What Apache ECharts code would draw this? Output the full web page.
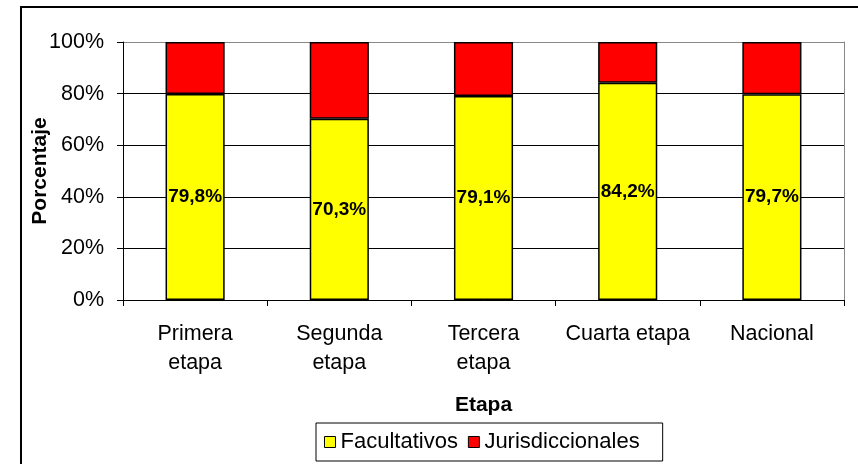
<!DOCTYPE html>
<html>
<head>
<meta charset="utf-8">
<script src="https://cdn.jsdelivr.net/npm/echarts@6/dist/echarts.min.js"></script>
<style>
  html, body { margin: 0; padding: 0; background: #fff; }
  #main { width: 858px; height: 464px; }
</style>
</head>
<body>
<div id="main"></div>
<script>
// etapas y porcentajes
const categories = ['Primera\netapa', 'Segunda\netapa', 'Tercera\netapa', 'Cuarta etapa', 'Nacional'];
const facultativos = [79.8, 70.3, 79.1, 84.2, 79.7];
const jurisdiccionales = [20.2, 29.7, 20.9, 15.8, 20.3];
const yTicks = [0, 20, 40, 60, 80, 100];

const font = 'Liberation Sans, Arial, sans-serif';
const chart = echarts.init(document.getElementById('main'));

const option = {
  animation: false,
  textStyle: { fontFamily: font },
  graphic: [{
    type: 'rect',
    shape: { x: 21, y: 7, width: 900, height: 500 },
    style: { fill: 'none', stroke: '#000', lineWidth: 2 },
    silent: true
  }],
  grid: { left: 123, right: 14, top: 42, bottom: 164 },
  legend: {
    left: 316, top: 423,
    padding: [8, 23, 8, 8],
    borderColor: '#000', borderWidth: 1,
    itemWidth: 11, itemHeight: 11, itemGap: 10,
    icon: 'rect',
    itemStyle: { borderColor: '#000', borderWidth: 1 },
    textStyle: { fontSize: 22, color: '#000', fontFamily: font },
    data: ['Facultativos', 'Jurisdiccionales']
  },
  xAxis: {
    type: 'category',
    data: categories,
    name: 'Etapa',
    nameLocation: 'middle',
    nameGap: 95,
    nameMoveOverlap: false,
    nameTextStyle: { fontSize: 21, fontWeight: 'bold', color: '#000', fontFamily: font },
    axisLine: { lineStyle: { color: '#000', width: 1 } },
    axisTick: { show: true, length: 6, lineStyle: { color: '#000' } },
    axisLabel: { interval: 0, hideOverlap: false, fontSize: 21.5, color: '#000', lineHeight: 29, margin: 20, fontFamily: font }
  },
  yAxis: [{
    type: 'value',
    min: 0, max: 100, interval: 20,
    name: 'Porcentaje',
    nameLocation: 'middle',
    nameGap: 72,
    nameMoveOverlap: false,
    nameRotate: 90,
    nameTextStyle: { fontSize: 21, fontWeight: 'bold', color: '#000', fontFamily: font },
    axisLine: { show: true, lineStyle: { color: '#000' } },
    axisTick: { show: true, length: 6, lineStyle: { color: '#000' } },
    axisLabel: {
      fontSize: 21.5, color: '#000', margin: 19, fontFamily: font,
      formatter: v => yTicks.includes(v) ? v + '%' : ''
    },
    splitLine: { show: true, lineStyle: { color: ['#000', '#000', '#000', '#000', '#000', '#888'], width: 1 } }
  }, {
    type: 'value',
    min: 0, max: 100, interval: 20,
    position: 'right',
    axisLine: { show: true, lineStyle: { color: '#888' } },
    axisTick: { show: false },
    axisLabel: { show: false },
    splitLine: { show: false }
  }],
  series: [{
    name: 'Facultativos',
    type: 'bar',
    stack: 'total',
    barWidth: '41%',
    data: facultativos,
    itemStyle: { color: '#ffff00', borderColor: '#000', borderWidth: 1.5 },
    label: {
      show: true,
      position: 'inside',
      color: '#000',
      fontSize: 19,
      fontWeight: 'bold',
      fontFamily: font,
      formatter: p => p.value.toFixed(1).replace('.', ',') + '%'
    }
  }, {
    name: 'Jurisdiccionales',
    type: 'bar',
    stack: 'total',
    barWidth: '41%',
    data: jurisdiccionales,
    itemStyle: { color: '#ff0000', borderColor: '#000', borderWidth: 1.5 }
  }]
};

chart.setOption(option);
</script>
</body>
</html>
